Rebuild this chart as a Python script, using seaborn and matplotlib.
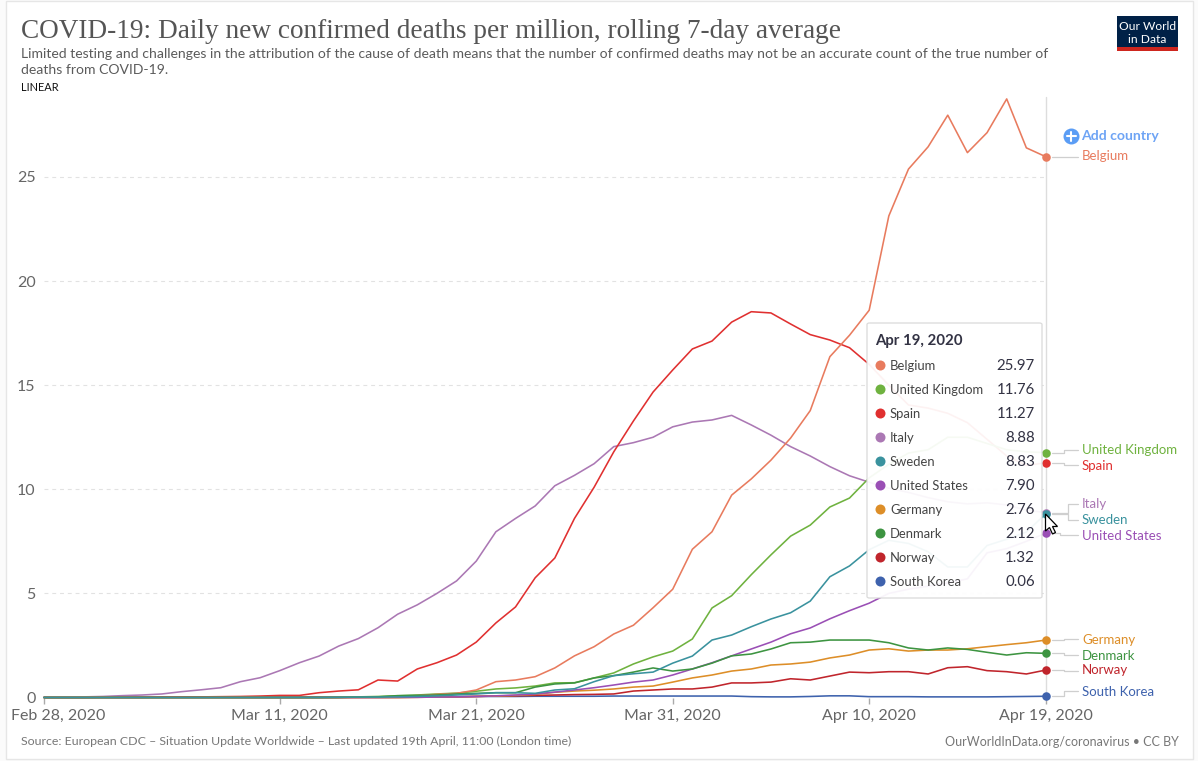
import matplotlib
matplotlib.use("Agg")
import matplotlib.pyplot as plt
from matplotlib.lines import Line2D
from matplotlib.patches import Rectangle, FancyBboxPatch, Polygon
from matplotlib.transforms import ScaledTranslation
import pandas as pd
import seaborn as sns

# ---------- data ----------
belgium = [0,0,0,0,0,0,0,0,0,0,0,0,0,0,0,0,.01,.02,.05,.09,.15,.2,.36,.76,.84,1.0,1.42,2.0,2.44,3.05,3.47,4.31,5.2,7.12,7.96,9.72,10.5,11.4,12.46,13.78,16.37,17.4,18.6,23.13,25.38,26.45,27.97,26.17,27.13,28.75,26.4,25.97]
uk = [0,0,0,0,0,0,0,0,0,0,0,0,0,0,0,.01,.03,.05,.08,.12,.17,.21,.3,.41,.46,.55,.7,.71,.94,1.18,1.61,1.95,2.23,2.81,4.3,4.89,5.9,6.85,7.75,8.28,9.15,9.58,10.55,11.2,11.74,11.9,12.5,12.5,12.2,11.9,11.8,11.76]
spain = [0,0,0,.01,.01,.01,.02,.03,.03,.04,.05,.07,.1,.1,.23,.31,.37,.84,.79,1.37,1.67,2.04,2.66,3.58,4.35,5.75,6.7,8.6,10.1,11.8,13.28,14.67,15.73,16.74,17.12,18.03,18.53,18.47,17.94,17.43,17.17,16.8,16.0,15.0,14.05,13.9,13.65,13.2,12.4,11.6,11.15,11.27]
italy = [.02,.02,.03,.05,.09,.12,.17,.28,.37,.47,.76,.95,1.29,1.67,1.99,2.47,2.83,3.35,4.0,4.45,5.0,5.6,6.55,7.96,8.6,9.2,10.17,10.67,11.23,12.05,12.24,12.5,13.0,13.23,13.33,13.55,13.09,12.6,12.05,11.6,11.09,10.65,10.34,10.05,9.85,9.6,9.4,9.3,9.35,9.25,9.0,8.88]
sweden = [0,0,0,0,0,0,0,0,0,0,0,0,0,0,0,.01,.02,.02,.03,.05,.08,.12,.17,.23,.23,.2,.36,.42,.76,1.05,1.14,1.22,1.65,1.99,2.76,3.0,3.4,3.77,4.07,4.63,5.8,6.32,7.1,7.55,7.4,7.0,6.27,6.27,7.3,7.6,7.95,8.83]
usa = [0,0,0,0,0,0,0,0,0,0,0,0,0,0,0,0,0,0,.01,.01,.02,.03,.05,.08,.12,.17,.26,.36,.47,.6,.74,.84,1.08,1.37,1.67,2.0,2.33,2.66,3.06,3.34,3.78,4.17,4.53,5.0,5.2,5.35,5.5,5.7,6.95,7.15,7.5,7.9]
germany = [0,0,0,0,0,0,0,0,0,0,0,0,0,0,0,0,0,0,0,.01,.02,.03,.05,.07,.1,.15,.25,.31,.35,.41,.5,.55,.74,.94,1.08,1.27,1.37,1.56,1.61,1.7,1.9,2.04,2.28,2.34,2.23,2.28,2.28,2.34,2.44,2.54,2.63,2.76]
denmark = [0,0,0,0,0,0,0,0,0,0,0,0,0,0,0,0,.02,.03,.09,.1,.12,.17,.2,.23,.23,.5,.65,.7,.94,1.05,1.22,1.42,1.27,1.37,1.65,2.0,2.09,2.33,2.63,2.66,2.76,2.76,2.76,2.63,2.38,2.28,2.38,2.31,2.17,2.04,2.15,2.12]
norway = [0,0,0,0,0,0,0,0,0,0,0,0,0,0,0,0,0,0,0,.01,.02,.03,.05,.07,.08,.1,.12,.14,.15,.17,.31,.36,.41,.41,.5,.7,.7,.74,.9,.84,1.03,1.22,1.19,1.24,1.24,1.13,1.43,1.48,1.29,1.24,1.13,1.32]
south_korea = [0,0,0,.01,.01,.01,.02,.02,.02,.03,.03,.03,.03,.03,.03,.03,.03,.03,.04,.04,.04,.04,.05,.05,.05,.06,.06,.06,.06,.07,.07,.07,.07,.07,.07,.07,.04,.03,.03,.05,.08,.08,.04,.04,.04,.03,.03,.03,.03,.04,.05,.06]

countries = ["Belgium", "United Kingdom", "Spain", "Italy", "Sweden", "United States", "Germany", "Denmark", "Norway", "South Korea"]
draw_order = ["South Korea", "Norway", "Germany", "United States", "Italy", "Spain", "United Kingdom", "Belgium", "Denmark", "Sweden"]
series = [belgium, uk, spain, italy, sweden, usa, germany, denmark, norway, south_korea]
final_text = ["25.97", "11.76", "11.27", "8.88", "8.83", "7.90", "2.76", "2.12", "1.32", "0.06"]
palette = ["#e87b5e", "#6fb23f", "#e03030", "#ab78b4", "#3a929e", "#9a4fb5", "#dd8e28", "#3d9441", "#c0252c", "#3e62ad"]
dates = pd.date_range("2020-02-28", "2020-04-19")
tick_dates = pd.to_datetime(["2020-02-28", "2020-03-11", "2020-03-21", "2020-03-31", "2020-04-10", "2020-04-19"])
tick_text = ["Feb 28, 2020", "Mar 11, 2020", "Mar 21, 2020", "Mar 31, 2020", "Apr 10, 2020", "Apr 19, 2020"]
y_ticks = [0, 5, 10, 15, 20, 25]

title = "COVID-19: Daily new confirmed deaths per million, rolling 7-day average"
subtitle = ["Limited testing and challenges in the attribution of the cause of death means that the number of confirmed deaths may not be an accurate count of the true number of",
            "deaths from COVID-19."]
source = "Source: European CDC – Situation Update Worldwide – Last updated 19th April, 11:00 (London time)"
credit = "OurWorldInData.org/coronavirus • CC BY"

df = pd.DataFrame({"date": list(dates) * len(countries),
                   "country": [c for c in countries for _ in dates],
                   "value": [v for s in series for v in s]})

# ---------- figure ----------
sns.set_theme(style="white")
plt.rcParams["font.family"] = ["Lato", "DejaVu Sans"]
W, H = 1198, 761
fig = plt.figure(figsize=(W / 100, H / 100), dpi=100, facecolor="#fbfbfb")
fx = lambda x: x / W
fy = lambda y: 1 - y / H
px = 100 / 72  # px per pt


def ftext(x, y, s, size, color, ha="left", va="center", **kw):
    return fig.text(fx(x), fy(y + 1), s, fontsize=size / px, color=color, ha=ha, va=va, **kw)


fig.add_artist(Rectangle((fx(6), fy(759)), fx(1187), 758 / H, transform=fig.transFigure,
                         fc="white", ec="#e6e6e6", lw=1, zorder=-5))

ax = fig.add_axes([fx(44), fy(697.5), fx(1002), (697.5 - 97) / H], facecolor="none")
sns.lineplot(data=df, x="date", y="value", hue="country", hue_order=draw_order,
             palette=dict(zip(countries, palette)), estimator=None, errorbar=None,
             linewidth=1.15, legend=False, ax=ax, clip_on=False, zorder=3)
ax.set_xlim(dates[0], dates[-1])
ax.set_ylim(0, (697.5 - 97) / 20.82)
ax.set_xlabel("")
ax.set_ylabel("")
for s in ax.spines.values():
    s.set_visible(False)
ax.set_yticks(y_ticks)
ax.set_yticklabels([str(v) for v in y_ticks], fontsize=16 / px, color="#666666")
ax.tick_params(axis="y", length=0, pad=6)
ax.set_xticks(tick_dates)
ax.set_xticklabels(tick_text, fontsize=16 / px, color="#666666")
ax.tick_params(axis="x", length=4, width=1, color="#aaaaaa", pad=4.5, bottom=True)
first = ax.get_xticklabels()[0]
first.set_transform(first.get_transform() + ScaledTranslation(14 / 100, 0, fig.dpi_scale_trans))
for v in y_ticks:
    ax.axhline(v, color="#e2e2e2", lw=0.8, ls=(0, (3.5, 3.5)) if v else "-", zorder=1)
ax.axvline(dates[-1], color="#dddddd", lw=1, zorder=1, clip_on=False)

# end dots
for i in [0, 1, 2, 3, 5, 6, 7, 8, 9, 4]:
    ax.scatter([dates[-1]], [series[i][-1]], s=38, color=palette[i], zorder=5, clip_on=False, linewidths=0)

# ---------- direct labels with connector lines ----------
fig.canvas.draw()
label_y = dict(zip(countries, [156, 450, 465, 504, 520, 535, 639, 655, 670, 691]))
elbow_x = dict(zip(countries, [1064, 1064, 1064, 1068, 1068, 1060, 1064, 1064, 1064, 1064]))
for i, c in enumerate(countries):
    p = ax.transData.transform((matplotlib.dates.date2num(dates[-1]), series[i][-1]))
    y0 = H - p[1]
    ex, ly = elbow_x[c], label_y[c] + (1 if c == "Norway" else 0)
    if c == "Belgium":
        ly = y0
    fig.add_artist(Line2D([fx(1052), fx(ex), fx(ex), fx(1078)], [fy(y0), fy(y0), fy(ly), fy(ly)],
                          color="#cfcfcf", lw=0.9, zorder=0.5))
    ftext(1082, label_y[c] - 0.5, c, 13.3, palette[i])

# ---------- tooltip ----------
fig.add_artist(FancyBboxPatch((fx(867), fy(598)), fx(175), 275 / H, boxstyle="round,pad=0,rounding_size=0.002",
                              transform=fig.transFigure, fc="white", ec="#d8d8d8", lw=0.9, alpha=0.94, zorder=2))
ftext(875, 340, "Apr 19, 2020", 15, "#333344", fontweight="bold", zorder=3)
for k, c in enumerate(countries):
    yy = 365 + 24 * k
    fig.add_artist(Line2D([fx(880)], [fy(yy)], marker="o", ms=7.2, mew=0, color=palette[k], zorder=3))
    ftext(890, yy - 0.5, c, 13, "#444444", zorder=3)
    ftext(1035, yy - 0.5, final_text[k], 15, "#333344", ha="right", zorder=3)

# cursor
cur = [(1045.5, 514), (1045.5, 531), (1049.5, 527.5), (1052.5, 534), (1055.5, 532.5), (1052.5, 526.5), (1057.5, 526.5)]
fig.add_artist(Polygon([(fx(a), fy(b)) for a, b in cur], closed=True, transform=fig.transFigure,
                       fc="white", ec="black", lw=0.9, zorder=6))

# ---------- header ----------
ftext(21, 30.5, title, 27.3, "#555555", family="Liberation Serif")
ftext(21, 53, subtitle[0], 14.05, "#5b5b5b")
ftext(21, 69, subtitle[1], 14.05, "#5b5b5b")
ftext(21, 86.5, "LINEAR", 11, "#111111")

# logo
fig.add_artist(Rectangle((fx(1117), fy(51)), 61 / W, 35 / H, transform=fig.transFigure, fc="#002147", ec="none", zorder=2))
fig.add_artist(Rectangle((fx(1117), fy(51)), 61 / W, 4 / H, transform=fig.transFigure, fc="#ce261e", ec="none", zorder=3))
ftext(1147.5, 25, "Our World", 12, "white", ha="center", zorder=4)
ftext(1147.5, 38.5, "in Data", 12, "white", ha="center", zorder=4)

# add country
fig.add_artist(Line2D([fx(1071)], [fy(136)], marker="o", ms=11.5, mew=0, color="#5b9df5", zorder=2))
fig.add_artist(Line2D([fx(1066.5), fx(1075.5)], [fy(136), fy(136)], color="white", lw=1.5, zorder=3))
fig.add_artist(Line2D([fx(1071), fx(1071)], [fy(131.5), fy(140.5)], color="white", lw=1.5, zorder=3))
ftext(1081.5, 135.5, "Add country", 14, "#6ea4f5", fontweight="bold")

# footer
ftext(21, 740.5, source, 12.37, "#777777")
ftext(1179, 740.5, credit, 12.5, "#777777", ha="right")

fig.savefig("out.png", dpi=100, facecolor=fig.get_facecolor())
